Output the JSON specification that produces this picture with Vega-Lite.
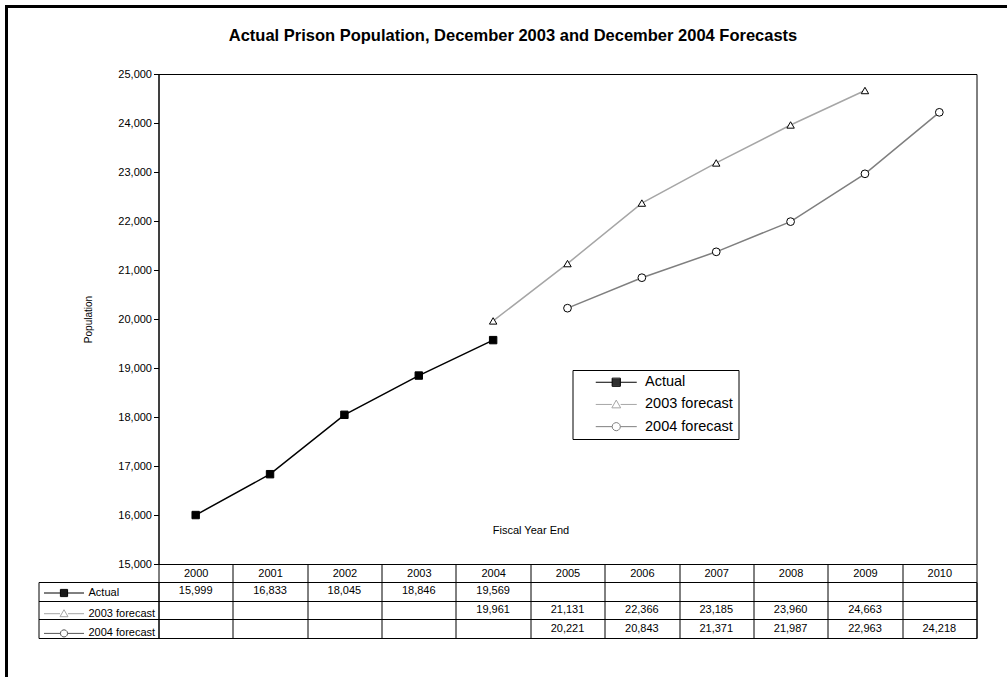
{
  "$schema": "https://vega.github.io/schema/vega-lite/v6.json",
  "padding": {"left": 5.5, "top": 6, "right": 0, "bottom": 0},
  "background": "white",
  "bounds": "flush",
  "spacing": 18,
  "config": {
    "font": "Liberation Sans",
    "view": {"stroke": "black", "strokeWidth": 1},
    "axis": {"labelFont": "Liberation Sans", "titleFont": "Liberation Sans", "labelColor": "black", "titleColor": "black", "domainColor": "black", "tickColor": "black"},
    "legend": {"labelFont": "Liberation Sans", "labelColor": "black"}
  },
  "datasets": {
    "pop": [
      {"series": "Actual", "year": 2000, "value": 15999},
      {"series": "Actual", "year": 2001, "value": 16833},
      {"series": "Actual", "year": 2002, "value": 18045},
      {"series": "Actual", "year": 2003, "value": 18846},
      {"series": "Actual", "year": 2004, "value": 19569},
      {"series": "2003 forecast", "year": 2004, "value": 19961},
      {"series": "2003 forecast", "year": 2005, "value": 21131},
      {"series": "2003 forecast", "year": 2006, "value": 22366},
      {"series": "2003 forecast", "year": 2007, "value": 23185},
      {"series": "2003 forecast", "year": 2008, "value": 23960},
      {"series": "2003 forecast", "year": 2009, "value": 24663},
      {"series": "2004 forecast", "year": 2005, "value": 20221},
      {"series": "2004 forecast", "year": 2006, "value": 20843},
      {"series": "2004 forecast", "year": 2007, "value": 21371},
      {"series": "2004 forecast", "year": 2008, "value": 21987},
      {"series": "2004 forecast", "year": 2009, "value": 22963},
      {"series": "2004 forecast", "year": 2010, "value": 24218}
    ]
  },
  "resolve": {
    "scale": {"shape": "independent", "color": "independent", "fill": "independent", "stroke": "independent"},
    "legend": {"shape": "independent", "color": "independent", "fill": "independent", "stroke": "independent"}
  },
  "vconcat": [
    {
      "width": 818,
      "height": 490,
      "data": {"name": "pop"},
      "title": {"text": "Actual Prison Population, December 2003 and December 2004 Forecasts", "font": "Liberation Sans", "fontSize": 16.5, "fontWeight": "bold", "color": "black", "anchor": "middle", "dx": -54.5, "offset": 24},
      "encoding": {
        "x": {"field": "year", "type": "ordinal",
          "scale": {"type": "band", "domain": [2000,2001,2002,2003,2004,2005,2006,2007,2008,2009,2010], "paddingInner": 0, "paddingOuter": 0},
          "axis": {"title": "Fiscal Year End", "titleFontSize": 11, "titleFontWeight": "normal", "titleX": 372, "titleY": -40, "titleAnchor": "middle", "domain": false, "ticks": true, "tickBand": "extent", "tickSize": 18, "tickWidth": 1, "labelFontSize": 11, "labelPadding": -14.5, "labelAngle": 0, "grid": false}},
        "y": {"field": "value", "type": "quantitative",
          "scale": {"domain": [15000, 25000], "nice": false, "zero": false},
          "axis": {"title": "Population", "titleFontSize": 10, "titleFontWeight": "normal", "titlePadding": 24, "values": [15000,16000,17000,18000,19000,20000,21000,22000,23000,24000,25000], "format": ",d", "labelFontSize": 11, "tickSize": 5, "labelPadding": 2, "grid": false}}
      },
      "layer": [
        {
          "mark": {"type": "line", "strokeWidth": 1.5},
          "encoding": {
            "color": {"field": "series", "type": "nominal",
              "scale": {"domain": ["Actual", "2003 forecast", "2004 forecast"], "range": ["#000000", "#a6a6a6", "#7f7f7f"]},
              "legend": {"orient": "none", "legendX": 414, "legendY": 296, "title": null, "padding": 5, "strokeColor": "black", "fillColor": "white", "labelFontSize": 14.5, "labelOffset": 21.5, "symbolOffset": 31.5, "rowPadding": 7.2, "symbolSize": 64, "symbolStrokeWidth": 1}}
          }
        },
        {
          "transform": [{"filter": "datum.series === 'Actual'"}],
          "mark": {"type": "point", "shape": "square", "filled": true, "fill": "black", "stroke": "black", "strokeWidth": 1, "opacity": 1, "size": 55}
        },
        {
          "transform": [{"filter": "datum.series === '2003 forecast'"}],
          "mark": {"type": "point", "shape": "triangle-up", "filled": true, "fill": "white", "stroke": "black", "strokeWidth": 1, "opacity": 1, "size": 55}
        },
        {
          "transform": [{"filter": "datum.series === '2004 forecast'"}],
          "mark": {"type": "point", "shape": "circle", "filled": true, "fill": "white", "stroke": "black", "strokeWidth": 1, "opacity": 1, "size": 60}
        },
        {
          "mark": {"type": "point", "filled": false, "opacity": 0, "strokeWidth": 1},
          "encoding": {
            "shape": {"field": "series", "type": "nominal",
              "scale": {"domain": ["Actual", "2003 forecast", "2004 forecast"], "range": ["M-5.125,0H-1.025M1.025,0H5.125M-1.025,-1.025H1.025V1.025H-1.025ZM-1.025,-0.75H1.025M-1.025,-0.5H1.025M-1.025,-0.25H1.025M-1.025,0H1.025M-1.025,0.25H1.025M-1.025,0.5H1.025M-1.025,0.75H1.025", "M-5.125,0H-1.1M1.1,0H5.125M0,-1.1L1.1,0.85H-1.1Z", "M-5.125,0H-1.025M1.025,0H5.125M1.025,0L0.888,0.513L0.513,0.888L0,1.025L-0.513,0.888L-0.888,0.513L-1.025,0L-0.888,-0.513L-0.513,-0.888L0,-1.025L0.513,-0.888L0.888,-0.513Z"]},
              "legend": {"orient": "none", "legendX": 414, "legendY": 296, "title": null, "padding": 5, "strokeColor": "black", "fillColor": "white", "labelFontSize": 14.5, "labelOffset": 21.5, "symbolOffset": 31.5, "rowPadding": 7.2, "symbolSize": 64, "symbolStrokeWidth": 1}}
          }
        }
      ]
    },
    {
      "width": 818,
      "height": 56,
      "data": {"name": "pop"},
      "encoding": {
        "x": {"field": "year", "type": "ordinal",
          "scale": {"type": "band", "domain": [2000,2001,2002,2003,2004,2005,2006,2007,2008,2009,2010], "paddingInner": 0, "paddingOuter": 0},
          "axis": {"orient": "top", "title": null, "labels": false, "ticks": false, "domain": false, "grid": true, "gridColor": "black", "gridOpacity": 1, "gridWidth": 1, "tickBand": "extent"}},
        "y": {"field": "series", "type": "nominal",
          "scale": {"type": "band", "domain": ["Actual", "2003 forecast", "2004 forecast"], "paddingInner": 0, "paddingOuter": 0},
          "axis": {"title": null, "labels": false, "offset": 120, "domain": true, "ticks": true, "tickSize": -120, "tickBand": "extent", "grid": true, "gridColor": "black", "gridOpacity": 1, "gridWidth": 1}}
      },
      "layer": [
        {
          "mark": {"type": "text", "fontSize": 11, "font": "Liberation Sans", "color": "black"},
          "encoding": {"text": {"field": "value", "type": "quantitative", "format": ",d"}}
        },
        {
          "mark": {"type": "point", "filled": false, "opacity": 0, "strokeWidth": 1},
          "encoding": {
            "shape": {"field": "series", "type": "nominal",
              "scale": {"domain": ["Actual", "2003 forecast", "2004 forecast"], "range": ["M-5,0H-0.9M0.9,0H5M-0.9,-0.9H0.9V0.9H-0.9ZM-0.9,-0.65H0.9M-0.9,-0.4H0.9M-0.9,-0.15H0.9M-0.9,0.1H0.9M-0.9,0.35H0.9M-0.9,0.6H0.9", "M-5,0H-1M1,0H5M0,-1L1,0.75H-1Z", "M-5,0H-0.9M0.9,0H5M0.9,0L0.779,0.45L0.45,0.779L0,0.9L-0.45,0.779L-0.779,0.45L-0.9,0L-0.779,-0.45L-0.45,-0.779L0,-0.9L0.45,-0.779L0.779,-0.45Z"]},
              "legend": {"orient": "none", "legendX": -116, "legendY": 5.5, "title": null, "padding": 0, "labelFontSize": 11, "labelOffset": 19, "symbolOffset": 16, "rowPadding": 7.7, "symbolSize": 64, "symbolStrokeWidth": 1}},
            "stroke": {"field": "series", "type": "nominal",
              "scale": {"domain": ["Actual", "2003 forecast", "2004 forecast"], "range": ["#000000", "#a6a6a6", "#555555"]},
              "legend": {"orient": "none", "legendX": -116, "legendY": 5.5, "title": null, "padding": 0, "labelFontSize": 11, "labelOffset": 19, "symbolOffset": 16, "rowPadding": 7.7, "symbolSize": 64, "symbolStrokeWidth": 1}}
          }
        },
        {
          "mark": {"type": "point", "opacity": 0},
          "encoding": {
            "color": {"field": "value", "type": "quantitative",
              "legend": {"orient": "none", "direction": "horizontal", "legendX": -152, "legendY": -575.5, "title": null, "padding": 0, "gradientLength": 1012, "gradientThickness": 682, "gradientStrokeColor": "black", "gradientStrokeWidth": 3, "labelOpacity": 0, "labelFontSize": 1, "labelExpr": "''",
                "encode": {"gradient": {"update": {"fillOpacity": {"value": 0}, "opacity": {"value": 1}}}}}}
          }
        }
      ]
    }
  ]
}
